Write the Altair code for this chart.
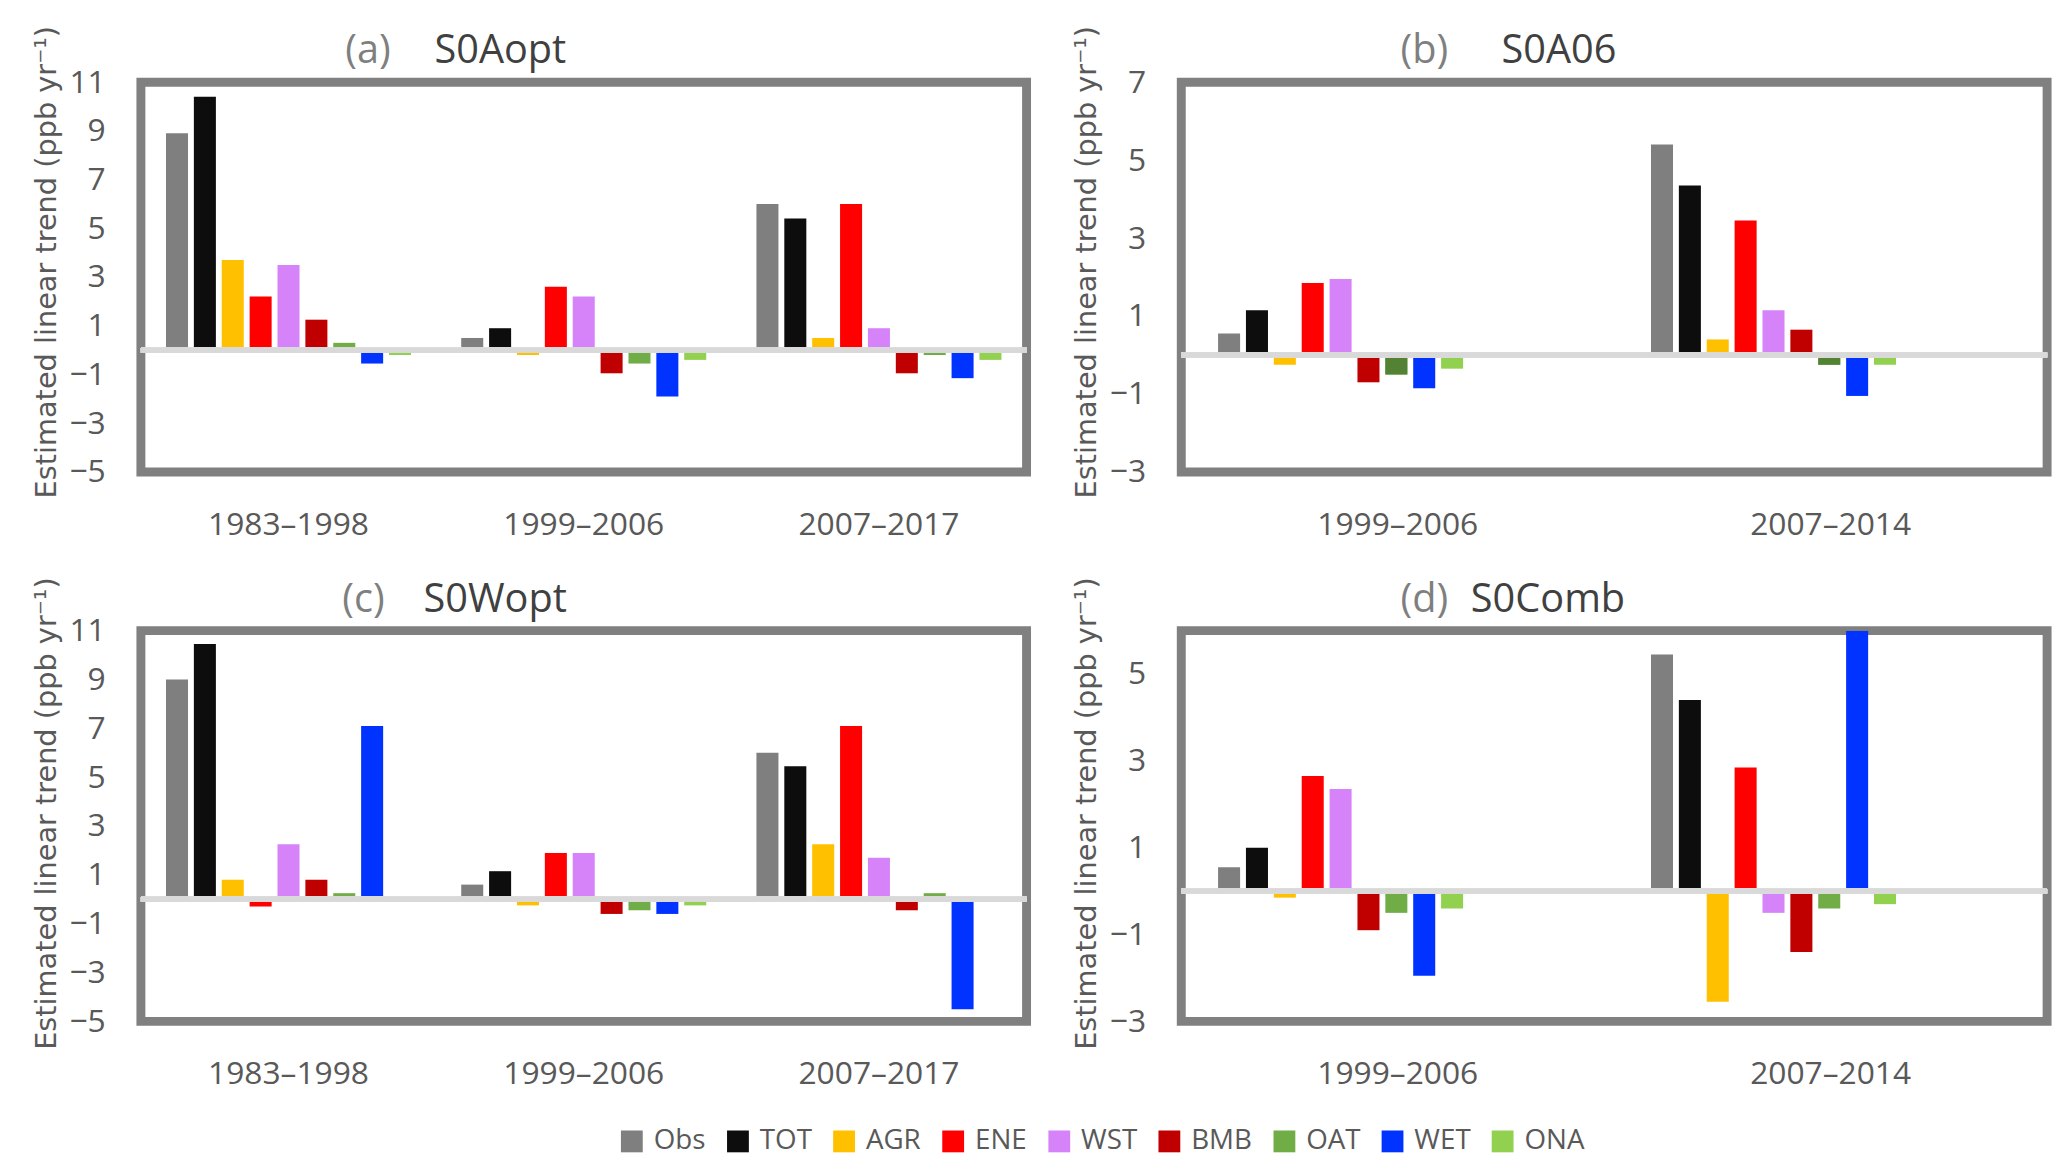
import altair as alt
import pandas as pd

series = ["Obs", "TOT", "AGR", "ENE", "WST", "BMB", "OAT", "WET", "ONA"]
colors = ["#7f7f7f", "#0d0d0d", "#ffc000", "#ff0000", "#d683fa", "#c00000", "#70ad47", "#0033ff", "#92d050"]

# (a) S0Aopt
a_periods = ["1983–1998", "1999–2006", "2007–2017"]
a_1983_1998 = [8.9, 10.4, 3.7, 2.2, 3.5, 1.25, 0.3, -0.55, -0.2]
a_1999_2006 = [0.5, 0.9, -0.2, 2.6, 2.2, -0.95, -0.55, -1.9, -0.4]
a_2007_2017 = [6.0, 5.4, 0.5, 6.0, 0.9, -0.95, -0.2, -1.15, -0.4]

# (b) S0A06
b_periods = ["1999–2006", "2007–2014"]
b_1999_2006 = [0.55, 1.15, -0.25, 1.85, 1.95, -0.7, -0.5, -0.85, -0.35]
b_2007_2014 = [5.4, 4.35, 0.4, 3.45, 1.15, 0.65, -0.25, -1.05, -0.25]

# (c) S0Wopt
c_periods = ["1983–1998", "1999–2006", "2007–2017"]
c_1983_1998 = [9.0, 10.45, 0.8, -0.3, 2.25, 0.8, 0.25, 7.1, -0.05]
c_1999_2006 = [0.6, 1.15, -0.25, 1.9, 1.9, -0.6, -0.45, -0.6, -0.25]
c_2007_2017 = [6.0, 5.45, 2.25, 7.1, 1.7, -0.45, 0.25, -4.5, -0.05]

# (d) S0Comb
d_periods = ["1999–2006", "2007–2014"]
d_1999_2006 = [0.55, 1.0, -0.15, 2.65, 2.35, -0.9, -0.5, -1.95, -0.4]
d_2007_2014 = [5.45, 4.4, -2.55, 2.85, -0.5, -1.4, -0.4, 6.0, -0.3]

ticks_a = [-5, -3, -1, 1, 3, 5, 7, 9, 11]
ticks_b = [-3, -1, 1, 3, 5, 7]
ticks_d = [-3, -1, 1, 3, 5]

YTITLE = "Estimated linear trend (ppb yr⁻¹)"
TICKFONT = "Open Sans"


def make_df(periods, values):
    rows = []
    for p, vals in zip(periods, values):
        for s, v in zip(series, vals):
            rows.append({"period": p, "series": s, "value": v})
    return pd.DataFrame(rows)


def panel(df, periods, dom, ticks, w, h, tag, name, tag_x, name_x, title_y, show_legend=False, dark_oat=False):
    x_enc = alt.X("period:N", sort=periods,
                  scale=alt.Scale(paddingInner=0.17, paddingOuter=0.085),
                  axis=alt.Axis(title=None, labelAngle=0, labelFont=TICKFONT, labelFontSize=32,
                                labelColor="#595959", labelPadding=38, domain=False, ticks=False,
                                grid=False))
    xo_enc = alt.XOffset("series:N", sort=series, scale=alt.Scale(paddingInner=0.21, paddingOuter=0))
    y_enc = alt.Y("value:Q", scale=alt.Scale(domain=dom, nice=False, zero=False),
                  axis=alt.Axis(values=ticks, title=YTITLE, grid=False, domain=False, ticks=False,
                                labelFont=TICKFONT, labelFontSize=32, labelColor="#595959",
                                labelPadding=36, titleFont="DejaVu Sans", titleFontSize=29,
                                titleFontWeight="normal", titleColor="#595959",
                                titleX=-86, titleY=title_y, titleBaseline="alphabetic",
                                titleAlign="center", titleAngle=270))
    if show_legend:
        leg = alt.Legend(title=None, orient="none", direction="horizontal", legendX=481,
                         legendY=1054, symbolType="square", symbolSize=484, symbolStrokeWidth=0,
                         labelFont=TICKFONT, labelFontSize=28, labelColor="#595959",
                         columnPadding=18, labelOffset=8, columns=9)
    else:
        leg = None
    c_enc = alt.Color("series:N", sort=series, scale=alt.Scale(domain=series, range=colors), legend=leg)

    bars = alt.Chart(df).mark_bar(clip=True).encode(x=x_enc, xOffset=xo_enc, y=y_enc, color=c_enc)
    layers = [bars]
    if dark_oat:
        oat = alt.Chart(df).transform_filter(alt.datum.series == "OAT").mark_bar(
            clip=True, color="#548235").encode(x=x_enc, xOffset=xo_enc, y=y_enc)
        layers.append(oat)
    zero = alt.Chart(df).mark_rule(color="#d9d9d9", strokeWidth=5).encode(y=alt.datum(0))
    layers.append(zero)
    t1 = alt.Chart(pd.DataFrame({"t": [tag]})).mark_text(
        font=TICKFONT, fontSize=40, color="#7f7f7f", align="left", baseline="middle").encode(
        text="t:N", x=alt.value(tag_x), y=alt.value(-31))
    t2 = alt.Chart(pd.DataFrame({"t": [name]})).mark_text(
        font=TICKFONT, fontSize=40, color="#404040", align="left", baseline="middle").encode(
        text="t:N", x=alt.value(name_x), y=alt.value(-31))
    layers += [t1, t2]
    return alt.layer(*layers).properties(width=w, height=h)


dfa = make_df(a_periods, [a_1983_1998, a_1999_2006, a_2007_2017])
dfb = make_df(b_periods, [b_1999_2006, b_2007_2014])
dfc = make_df(c_periods, [c_1983_1998, c_1999_2006, c_2007_2017])
dfd = make_df(d_periods, [d_1999_2006, d_2007_2014])

pa = panel(dfa, a_periods, [-5, 11], ticks_a, 893, 393, "(a)", "S0Aopt", 206, 296, 181, show_legend=True)
pb = panel(dfb, b_periods, [-3, 7], ticks_b, 873, 393, "(b)", "S0A06", 221, 323, 181, dark_oat=True)
pc = panel(dfc, c_periods, [-5, 11], ticks_a, 893, 394, "(c)", "S0Wopt", 203, 285, 184)
pd_ = panel(dfd, d_periods, [-3, 6], ticks_d, 873, 394, "(d)", "S0Comb", 221, 292, 184)

chart = alt.vconcat(
    alt.hconcat(pa, pb, spacing=35),
    alt.hconcat(pc, pd_, spacing=35),
    spacing=27,
).properties(
    padding={"left": 20, "top": 8, "right": 5, "bottom": 5},
    background="white",
).configure_view(
    stroke="#808080", strokeWidth=9
)

chart.save("out.html", embed_options={"renderer": "svg", "actions": False})
